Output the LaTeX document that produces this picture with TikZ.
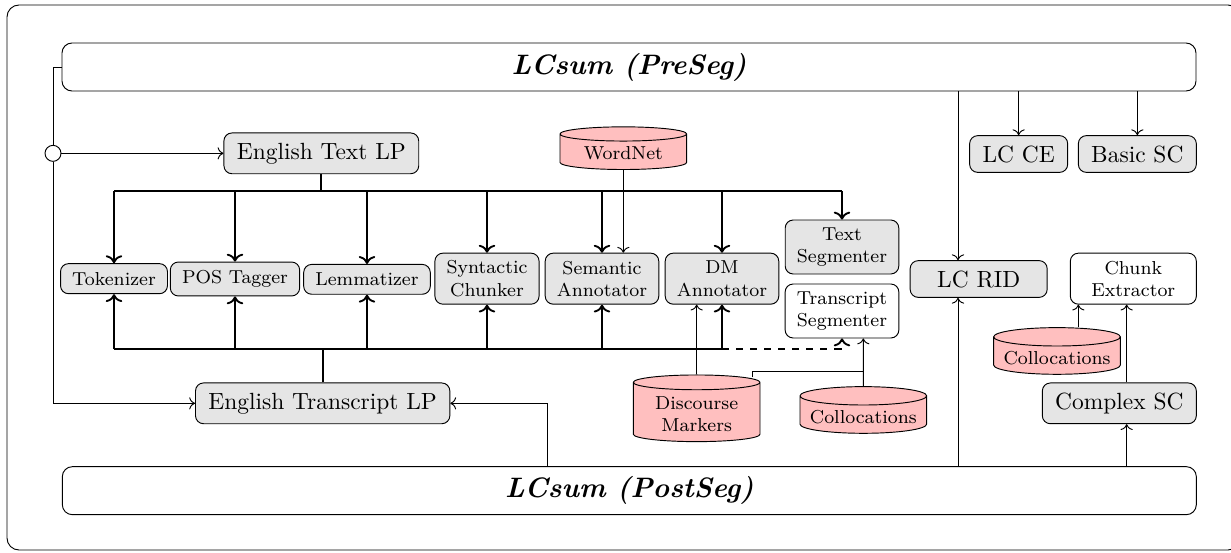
\documentclass[tikz,border=0pt]{standalone}
\usepackage{amsmath}
\usepackage{tikz}
\usetikzlibrary{arrows, arrows.meta, shapes.geometric}

\tikzset{
  proc/.style={draw, rounded corners=1.2mm, fill=gray!20, inner xsep=5.5pt, inner ysep=4.2pt, align=center},
  subproc/.style={proc, font=\footnotesize, inner xsep=5pt, inner ysep=3.6pt},
  twoline/.style={subproc, inner ysep=2pt, minimum height=0.765cm},
  store/.style={cylinder, shape border rotate=90, draw, fill=red!25, aspect=0.15, inner ysep=1pt, font=\footnotesize, align=center, minimum width=1.9cm},
  lcsum/.style={draw, rounded corners=1.5mm, minimum width=17.01cm, minimum height=0.72cm, font=\large\bfseries\itshape},
  bus/.style={thick},
}

\begin{document}
\begin{tikzpicture}
  \useasboundingbox (0,0) rectangle (18.465,-8.28);
  % Frame
  \draw[rounded corners=1.8mm] (0.105,-0.075) rectangle (18.6,-8.25);

  % Segmentation stages
  \node[lcsum] (preseg) at (9.435,-1.005) {LCsum (PreSeg)};
  \node[lcsum] (postseg) at (9.44,-7.36) {LCsum (PostSeg)};

  % Language processors
  \node[proc] (etlp) at (4.82,-2.30) {English Text LP};
  \node[proc] (etrlp) at (4.84,-6.05) {English Transcript LP};
  \node[draw, circle, fill=white, minimum size=0.24cm, inner sep=0pt] (junc) at (0.795,-2.30) {};

  \node[subproc, minimum width=1.53cm] (tok) at (1.71,-4.18) {Tokenizer};
  \node[subproc, minimum width=1.86cm] (pos) at (3.525,-4.185) {POS Tagger};
  \node[subproc, minimum width=1.815cm] (lem) at (5.505,-4.19) {Lemmatizer};
  \node[twoline, minimum width=1.53cm] (syn) at (7.305,-4.18) {Syntactic\\Chunker};
  \node[twoline, minimum width=1.65cm] (sem) at (9.03,-4.18) {Semantic\\Annotator};
  \node[twoline, minimum width=1.65cm] (dma) at (10.83,-4.18) {DM\\Annotator};
  \node[twoline, minimum width=1.665cm, minimum height=0.81cm] (txs) at (12.63,-3.705) {Text\\Segmenter};
  \node[twoline, fill=white, minimum width=1.65cm, minimum height=0.81cm] (trs) at (12.63,-4.665) {Transcript\\Segmenter};

  % Resources
  \node[store, minimum height=0.64cm] (wn) at (9.35,-2.305) {WordNet};
  \node[store, minimum height=1.0cm] (dmk) at (10.45,-6.21) {Discourse\\Markers};
  \node[store, minimum height=0.7cm] (colt) at (12.95,-6.255) {Collocations};
  \node[store, minimum height=0.7cm] (colc) at (15.855,-5.37) {Collocations};

  % Post-segmentation components
  \node[proc, minimum width=2.055cm] (rid) at (14.68,-4.185) {LC RID};
  \node[proc] (ce) at (15.28,-2.31) {LC CE};
  \node[proc] (bsc) at (17.06,-2.31) {Basic SC};
  \node[twoline, fill=white, minimum width=1.89cm] (chx) at (17.0,-4.18) {Chunk\\Extractor};
  \node[proc] (csc) at (16.79,-6.05) {Complex SC};

  \coordinate (bustop) at (0,-2.865);
  \coordinate (busbot) at (0,-5.235);
  \coordinate (tsjoin) at (12.95,-5.565);

  % Left feed
  \draw (preseg.west) -| (junc.north);
  \draw[->] (junc.east) -- (etlp.west);
  \draw[->] (junc.south) |- (etrlp.west);
  \draw[->] (postseg.north -| 8.205,0) |- (etrlp.east);

  % Buses
  \draw[bus] (etlp.south) -- (etlp.south |- bustop);
  \draw[bus] (tok.north |- bustop) -- (txs.north |- bustop);
  \foreach \n in {tok,pos,lem,syn,sem,dma,txs}
    \draw[bus,->] (\n.north |- bustop) -- (\n.north);
  \draw[bus] (etrlp.north) -- (etrlp.north |- busbot);
  \draw[bus] (tok.south |- busbot) -- (dma.south |- busbot);
  \foreach \n in {tok,pos,lem,syn,sem,dma}
    \draw[bus,->] (\n.south |- busbot) -- (\n.south);
  \draw[bus,dashed,->] (dma.south |- busbot) -| (trs.south);

  % Resources
  \draw[->] (wn.south) -- (wn.south |- sem.north);
  \draw[->] (dmk.north) -- (dmk.north |- dma.south);
  \draw ([xshift=0.83cm,yshift=-0.04cm]dmk.north) |- (tsjoin);
  \draw[->] (colt.north) -- (tsjoin) -- (tsjoin |- trs.south);

  % Right side
  \draw[->] ([xshift=-0.31cm]rid.north |- preseg.south) -- ([xshift=-0.31cm]rid.north);
  \draw[->] ([xshift=-0.31cm]rid.south |- postseg.north) -- ([xshift=-0.31cm]rid.south);
  \draw[->] (ce.north |- preseg.south) -- (ce.north);
  \draw[->] (bsc.north |- preseg.south) -- (bsc.north);
  \draw[->] ([xshift=0.11cm]csc.south |- postseg.north) -- ([xshift=0.11cm]csc.south);
  \draw[->] ([xshift=0.11cm]csc.north) -- ([xshift=0.11cm]csc.north |- chx.south);
  \draw[->] ([xshift=-0.825cm]chx.south |- colc.north) -- ([xshift=-0.825cm]chx.south);
\end{tikzpicture}
\end{document}
